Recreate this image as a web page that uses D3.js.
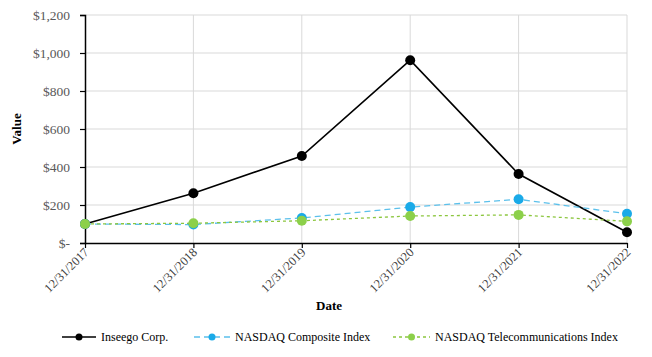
<!DOCTYPE html>
<html><head><meta charset="utf-8">
<script src="https://cdn.jsdelivr.net/npm/d3@7"></script>
<style>body{margin:0;background:#fff}svg{display:block}</style>
</head><body>
<svg id="c" width="652" height="357"></svg>
<script>
const categories = ["12/31/2017","12/31/2018","12/31/2019","12/31/2020","12/31/2021","12/31/2022"];
const inseego = [100, 262, 458, 962, 363, 57];
const nasdaqComposite = [100, 97, 132, 189, 230, 154];
const nasdaqTelecom = [100, 104, 117, 142, 148, 114];
const yTicks = [0, 200, 400, 600, 800, 1000, 1200];
const seriesNames = ["Inseego Corp.", "NASDAQ Composite Index", "NASDAQ Telecommunications Index"];

const series = [
  {name: seriesNames[0], values: inseego, color: "#000000", dash: null, width: 1.6},
  {name: seriesNames[1], values: nasdaqComposite, color: "#5bc0eb", dash: "6,4", width: 1.3, mcolor:"#1aaae8"},
  {name: seriesNames[2], values: nasdaqTelecom, color: "#8cc63f", dash: "3,3", width: 1.3, mcolor:"#8cd04a"}
];

const FONT = '"Liberation Serif"';
const svg = d3.select("#c");
const L = 85, R = 627, T = 15, B = 243;
const x = d3.scalePoint().domain(categories).range([L, R]);
const y = d3.scaleLinear().domain([0, 1200]).range([B, T]);

// gridlines
svg.append("g").selectAll("line.h").data(yTicks.slice(1)).join("line")
  .attr("x1", L).attr("x2", R).attr("y1", d => y(d)).attr("y2", d => y(d))
  .attr("stroke", "#d9d9d9").attr("stroke-width", 1);
svg.append("g").selectAll("line.v").data(categories.slice(1)).join("line")
  .attr("x1", d => x(d)).attr("x2", d => x(d)).attr("y1", T).attr("y2", B)
  .attr("stroke", "#d9d9d9").attr("stroke-width", 1);

// y axis
const fmt = d => d === 0 ? "$-" : "$" + d3.format(",")(d);
const yAxis = svg.append("g").attr("transform", `translate(${L},0)`)
  .call(d3.axisLeft(y).tickValues(yTicks).tickFormat(fmt).tickSize(5).tickPadding(10));
yAxis.attr("font-family", "Liberation Serif");
yAxis.select(".domain").attr("stroke", "#000").attr("stroke-width", 1.5);
yAxis.selectAll(".tick line").attr("stroke", "#000").attr("stroke-width", 1.2);
yAxis.selectAll("text").style("font-family", FONT).style("font-size", "13.5px").attr("fill", "#595959");

// x axis
const xAxis = svg.append("g").attr("transform", `translate(0,${B})`)
  .call(d3.axisBottom(x).tickSize(5).tickSizeOuter(0));
xAxis.attr("font-family", "Liberation Serif");
xAxis.select(".domain").attr("stroke", "#000").attr("stroke-width", 1.5);
xAxis.selectAll(".tick line").attr("stroke", "#000").attr("stroke-width", 1.2);
xAxis.selectAll("text").style("font-family", FONT).style("font-size", "12.5px").attr("fill", "#404040")
  .attr("text-anchor", "end").attr("dy", null).attr("y", 0)
  .attr("transform", "translate(4,10) rotate(-45)");

// lines
const line = d3.line().x((d, i) => x(categories[i])).y(d => y(d));
series.forEach(s => {
  svg.append("path").datum(s.values).attr("d", line).attr("fill", "none")
    .attr("stroke", s.color).attr("stroke-width", s.width)
    .attr("stroke-dasharray", s.dash);
});
series.forEach(s => {
  svg.append("g").selectAll("circle").data(s.values).join("circle")
    .attr("cx", (d, i) => x(categories[i])).attr("cy", d => y(d)).attr("r", 5)
    .attr("fill", s.mcolor || s.color);
});

// axis titles
svg.append("text").attr("transform", `translate(21,129) rotate(-90)`)
  .attr("text-anchor", "middle").style("font-family", FONT).style("font-size", "13px")
  .attr("font-weight", "bold").text("Value");
svg.append("text").attr("x", 329).attr("y", 310)
  .attr("text-anchor", "middle").style("font-family", FONT).style("font-size", "13px")
  .attr("font-weight", "bold").text("Date");

// legend
const leg = [{x0: 62, x1: 96}, {x0: 194, x1: 230}, {x0: 393, x1: 430}];
const ly = 337;
series.forEach((s, i) => {
  const g = svg.append("g");
  g.append("line").attr("x1", leg[i].x0).attr("x2", leg[i].x1).attr("y1", ly).attr("y2", ly)
    .attr("stroke", s.color).attr("stroke-width", s.width).attr("stroke-dasharray", s.dash);
  g.append("circle").attr("cx", (leg[i].x0 + leg[i].x1) / 2).attr("cy", ly).attr("r", 3.5)
    .attr("fill", s.mcolor || s.color);
  g.append("text").attr("x", leg[i].x1 + 5).attr("y", ly + 4)
    .style("font-family", FONT).style("font-size", "12px").attr("fill", "#000").text(s.name);
});
</script>
</body></html>
